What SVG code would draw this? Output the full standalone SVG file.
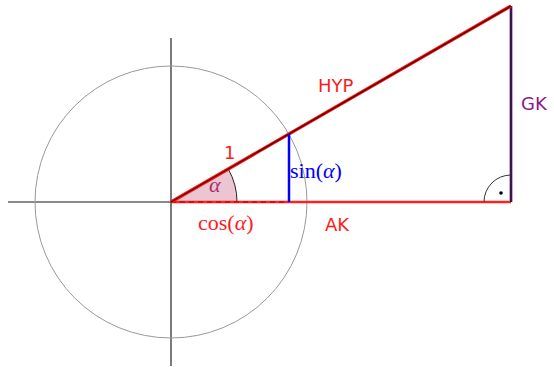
<svg xmlns="http://www.w3.org/2000/svg" width="554" height="367" viewBox="0 0 554 367">
<style>
.sans{font-family:"DejaVu Sans","Liberation Sans",sans-serif;font-size:18px}
.serif{font-family:"Liberation Serif","DejaVu Serif",serif;font-size:22px}
</style>
<rect width="554" height="367" fill="#fff"/>
<g id="axes">
<line x1="8" y1="202" x2="307" y2="202" stroke="#8a8a8a" stroke-width="1.8"/>
<line x1="171" y1="38" x2="171" y2="366" stroke="#222" stroke-width="1.2"/>
</g>
<g id="circle"><circle cx="171" cy="202" r="136" fill="none" stroke="#999" stroke-width="1"/></g>
<g id="angle">
<path d="M171,202 L237,202 A66,66 0 0 0 228.2,169 Z" fill="#ebc6d2"/>
<path d="M237,202 A66,66 0 0 0 228.2,169" fill="none" stroke="#222" stroke-width="1"/>
<text x="209" y="192" class="serif" font-style="italic" fill="#a8306a">α</text>
</g>
<g id="connectors">
<line x1="171" y1="202" x2="511" y2="202" stroke="#ff2020" stroke-width="2.5"/>
<line x1="171" y1="202" x2="289" y2="202" stroke="#d80000" stroke-width="1.6" stroke-dasharray="5,4"/>
<line x1="511" y1="6" x2="511" y2="202" stroke="#a040c0" stroke-width="3"/>
<line x1="511" y1="6" x2="511" y2="202" stroke="#111" stroke-width="1.5"/>
<line x1="171" y1="202" x2="511" y2="6" stroke="#ff1a1a" stroke-width="3.4"/>
<line x1="171" y1="202" x2="511" y2="6" stroke="#600000" stroke-width="1.4"/>
<line x1="289" y1="134" x2="289" y2="202" stroke="#0000ff" stroke-width="2.5"/>
</g>
<g id="rightangle">
<path d="M484,202 A27,27 0 0 1 511,175" fill="none" stroke="#333" stroke-width="1"/>
<circle cx="501" cy="193" r="1.8" fill="#000"/>
</g>
<g id="labels">
<text x="224" y="159" class="sans" fill="#ff1a1a">1</text>
<text x="318" y="92" class="sans" fill="#ff1a1a">HYP</text>
<text x="325" y="231" class="sans" fill="#ff1a1a">AK</text>
<text x="521" y="110" class="sans" fill="#8a1a8a">GK</text>
<text x="290" y="178" class="serif" fill="#0000ff">sin(<tspan font-style="italic">α</tspan>)</text>
<text x="198" y="230" class="serif" fill="#ff1a1a">cos(<tspan font-style="italic">α</tspan>)</text>
</g>
</svg>
